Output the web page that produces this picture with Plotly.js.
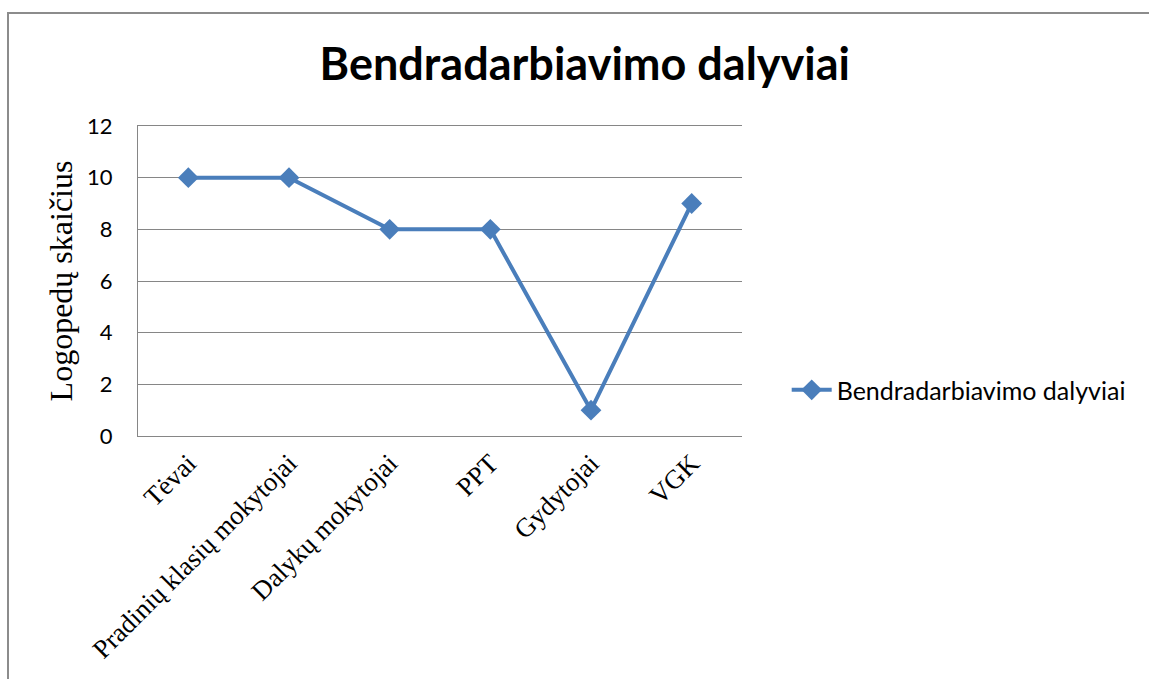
<!DOCTYPE html>
<html>
<head>
<meta charset="utf-8">
<script src="https://cdn.plot.ly/plotly-3.0.1.min.js"></script>
<style>
  html, body { margin: 0; padding: 0; background: #fff; }
  #wrap { position: relative; width: 1149px; height: 679px; }
  #chart { width: 1149px; height: 679px; }
  #frame { position: absolute; left: 7px; top: 12px; width: 1142px; height: 667px;
           border-top: 2px solid #8c8c8c; border-left: 2px solid #8c8c8c; pointer-events: none; }
</style>
</head>
<body>
<div id="wrap">
  <div id="chart"></div>
  <div id="frame"></div>
</div>
<script>
const categories = ["Tėvai", "Pradinių klasių mokytojai", "Dalykų mokytojai", "PPT", "Gydytojai", "VGK"];
const values = [10, 10, 8, 8, 1, 9];
const seriesName = "Bendradarbiavimo dalyviai";
const yTicks = [0, 2, 4, 6, 8, 10, 12];

const trace = {
  type: "scatter",
  mode: "lines+markers",
  x: categories,
  y: values,
  name: seriesName,
  line: { color: "#4A7EBB", width: 4 },
  marker: { symbol: "diamond", size: 16, color: "#4A7EBB" },
  showlegend: true
};

const layout = {
  width: 1149,
  height: 679,
  margin: { l: 138, r: 407, t: 126, b: 243 },
  paper_bgcolor: "#ffffff",
  plot_bgcolor: "#ffffff",
  title: {
    text: "<b>Bendradarbiavimo dalyviai</b>",
    font: { family: "Lato, 'Open Sans', sans-serif", size: 45, color: "#000" },
    x: 0.509, xanchor: "center",
    y: 0.905, yanchor: "middle"
  },
  xaxis: {
    type: "category",
    range: [-0.5, 5.5],
    showgrid: false,
    zeroline: false,
    showline: true,
    mirror: true,
    linecolor: "#868686",
    linewidth: 1,
    ticks: "",
    tickangle: -45,
    tickfont: { family: "'Liberation Serif', 'Times New Roman', serif", size: 26.7, color: "#000" },
    fixedrange: true
  },
  yaxis: {
    range: [0, 12],
    tickvals: yTicks,
    ticktext: yTicks.map(String),
    showgrid: true,
    gridcolor: "#868686",
    gridwidth: 1,
    zeroline: false,
    showline: true,
    linecolor: "#868686",
    linewidth: 1,
    ticks: "outside",
    ticklen: 20,
    tickcolor: "rgba(0,0,0,0)",
    tickfont: { family: "Lato, 'Open Sans', sans-serif", size: 22, color: "#000" },
    title: {
      text: "Logopedų skaičius",
      font: { family: "'Liberation Serif', 'Times New Roman', serif", size: 32, color: "#000" },
      standoff: 4
    },
    automargin: false,
    fixedrange: true
  },
  legend: {
    x: 1.074, xanchor: "left",
    y: 0.148, yanchor: "middle",
    font: { family: "Lato, 'Open Sans', sans-serif", size: 25, color: "#000" },
    bgcolor: "rgba(0,0,0,0)",
    itemwidth: 40
  },
  showlegend: true
};

Plotly.newPlot("chart", [trace], layout, { displayModeBar: false, staticPlot: true });
</script>
</body>
</html>
